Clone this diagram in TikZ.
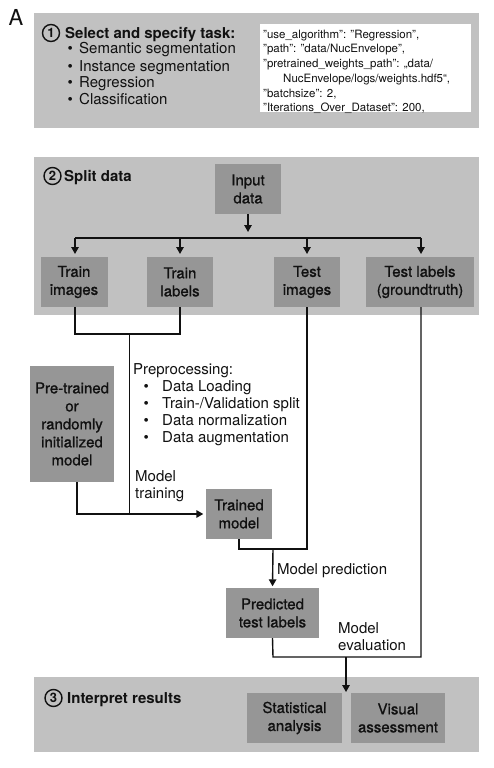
\documentclass[tikz,border=0pt]{standalone}
\usepackage{fontspec}
\setmainfont{TeX Gyre Heros}
\newfontfamily\medfont[FakeBold=1]{TeX Gyre Heros}
\usetikzlibrary{arrows.meta}
\definecolor{panelgray}{HTML}{C1C1C1}
\definecolor{boxgray}{HTML}{969696}
\definecolor{inkc}{HTML}{111111}
\tikzset{
  panel/.style={fill=panelgray, draw=none},
  codebox/.style={fill=white, draw=none},
  box/.style={fill=boxgray, draw=none, align=center, inner sep=0pt, text=inkc,
    font=\medfont\fontsize{15}{18}\selectfont},
  txt/.style={inner sep=0pt, anchor=base west, text=inkc, font=\fontsize{15}{18}\selectfont},
  codetxt/.style={inner sep=0pt, anchor=base west, text=inkc, font=\fontsize{11.5}{14}\selectfont},
  ttl/.style={inner sep=0pt, anchor=base west, text=inkc, font=\bfseries\fontsize{15}{18}\selectfont},
  num/.style={circle, draw=inkc, line width=1.4pt, minimum size=17pt, inner sep=0pt, text=inkc,
    font=\bfseries\fontsize{13}{13}\selectfont},
  conn/.style={line width=1.4pt, draw=inkc},
  arr/.style={conn, -{Triangle[length=7pt,width=7.5pt]}},
}
\begin{document}
\begin{tikzpicture}[x=1pt,y=-1pt]
\useasboundingbox (0,0) rectangle (494,768);
\fill[white] (0,0) rectangle (494,768);
% panels
\path[panel] (34,13) rectangle (479,128);
\path[panel] (34,157) rectangle (479,315);
\path[panel] (34,677) rectangle (479,752);
\path[codebox] (260,24) rectangle (471,112);
% label A
\node[inner sep=0pt, font=\fontsize{22}{22}\selectfont, text=inkc] (lblA) at (16,17) {A};
% panel 1
\node[num] (n1) at (51,33) {1};
\node[ttl] (t1) at (65,38) {Select and specify task:};
\node[txt] (b1) at (67.5,54) {\makebox[11.5pt][l]{\textbullet}Semantic segmentation};
\node[txt] (b2) at (67.5,71) {\makebox[11.5pt][l]{\textbullet}Instance segmentation};
\node[txt] (b3) at (67.5,88) {\makebox[11.5pt][l]{\textbullet}Regression};
\node[txt] (b4) at (67.5,104) {\makebox[11.5pt][l]{\textbullet}Classification};
\node[codetxt] (c1) at (263,38) {"use\_algorithm": "Regression",};
\node[codetxt] (c2) at (263,52.5) {"path": "data/NucEnvelope",};
\node[codetxt] (c3) at (263,67.5) {"pretrained\_weights\_path": „data/};
\node[codetxt] (c4) at (283,82.5) {NucEnvelope/logs/weights.hdf5“,};
\node[codetxt] (c5) at (263,97) {"batchsize": 2,};
\node[codetxt] (c6) at (263,111) {"Iterations\_Over\_Dataset": 200,};
% panel 2
\node[num] (n2) at (52.5,176) {2};
\node[ttl] (t2) at (64,181) {Split data};
\node[box, minimum width=66pt, minimum height=50pt] (input) at (248,189) {Input\\data};
\node[box, minimum width=67pt, minimum height=50pt] (trimg) at (74,282) {Train\\images};
\node[box, minimum width=66pt, minimum height=50pt] (trlab) at (180,282) {Train\\labels};
\node[box, minimum width=66pt, minimum height=50pt] (teimg) at (307,282) {Test\\images};
\node[box, minimum width=108pt, minimum height=50pt] (telab) at (420,282) {Test labels\\(groundtruth)};
\coordinate (bus) at (248,238);
\coordinate (intip) at (248,232);
\draw[arr] (input.south) -- (intip);
\draw[conn] (75,238) -- (421,238);
\draw[arr] (75,238) -- (75,254);
\draw[arr] (trlab.north |- bus) -- (180,254);
\draw[arr] (teimg.north |- bus) -- (307,254);
\draw[arr] (421,238) -- (421,254);
% training branch
\coordinate (brkL) at (75,334);
\coordinate (brkR) at (180,334);
\coordinate (brkM) at (129.5,334);
\coordinate (join) at (129.5,514);
\draw[conn] (75,307) -- (brkL) -- (brkR) -- (trlab.south);
\node[box, minimum width=84pt, minimum height=116pt] (pretr) at (72,424) {Pre-trained\\or\\randomly\\initialized\\model};
\node[box, minimum width=66pt, minimum height=50pt] (trained) at (239,514) {Trained\\model};
\coordinate (pbot) at (77,482);
\coordinate (pcorner) at (77,514);
\draw[conn] (brkM) -- (join);
\draw[conn] (pbot) -- (pcorner) -- (join);
\draw[arr, shorten >=2.5pt] (join) -- (trained.west);
\node[txt] (pp0) at (133,374) {Preprocessing:};
\node[txt] (pp1) at (143.5,391) {\makebox[18.5pt][l]{\textbullet}Data Loading};
\node[txt] (pp2) at (143.5,408) {\makebox[18.5pt][l]{\textbullet}Train-/Validation split};
\node[txt] (pp3) at (143.5,425) {\makebox[18.5pt][l]{\textbullet}Data normalization};
\node[txt] (pp4) at (143.5,442) {\makebox[18.5pt][l]{\textbullet}Data augmentation};
\node[txt] (mt1) at (135,481) {Model};
\node[txt] (mt2) at (135,498) {training};
% prediction
\coordinate (m1) at (273,549);
\node[box, minimum width=93pt, minimum height=50pt] (pred) at (272.5,613) {Predicted\\test labels};
\draw[conn] (trained.south) -- (trained.south |- m1) -- (teimg.south |- m1) -- (teimg.south);
\draw[arr, shorten >=1.5pt] (m1) -- (pred.north);
\node[txt] (mp) at (277,574) {Model prediction};
% evaluation
\coordinate (m2) at (273,657);
\coordinate (m3) at (421,657);
\coordinate (ev) at (346,657);
\coordinate (evtip) at (346,692);
\draw[conn] (pred.south) -- (m2) -- (m3) -- (421,307);
\draw[arr] (ev) -- (evtip);
\node[txt] (me1) at (338,633) {Model};
\node[txt] (me2) at (338,650) {evaluation};
% panel 3
\node[num] (n3) at (53.5,698) {3};
\node[ttl] (t3) at (67,703) {Interpret results};
\node[box, minimum width=95pt, minimum height=50pt] (stat) at (294.5,718) {Statistical\\analysis};
\node[box, minimum width=94pt, minimum height=50pt] (visual) at (398,718) {Visual\\assessment};
\end{tikzpicture}
\end{document}
